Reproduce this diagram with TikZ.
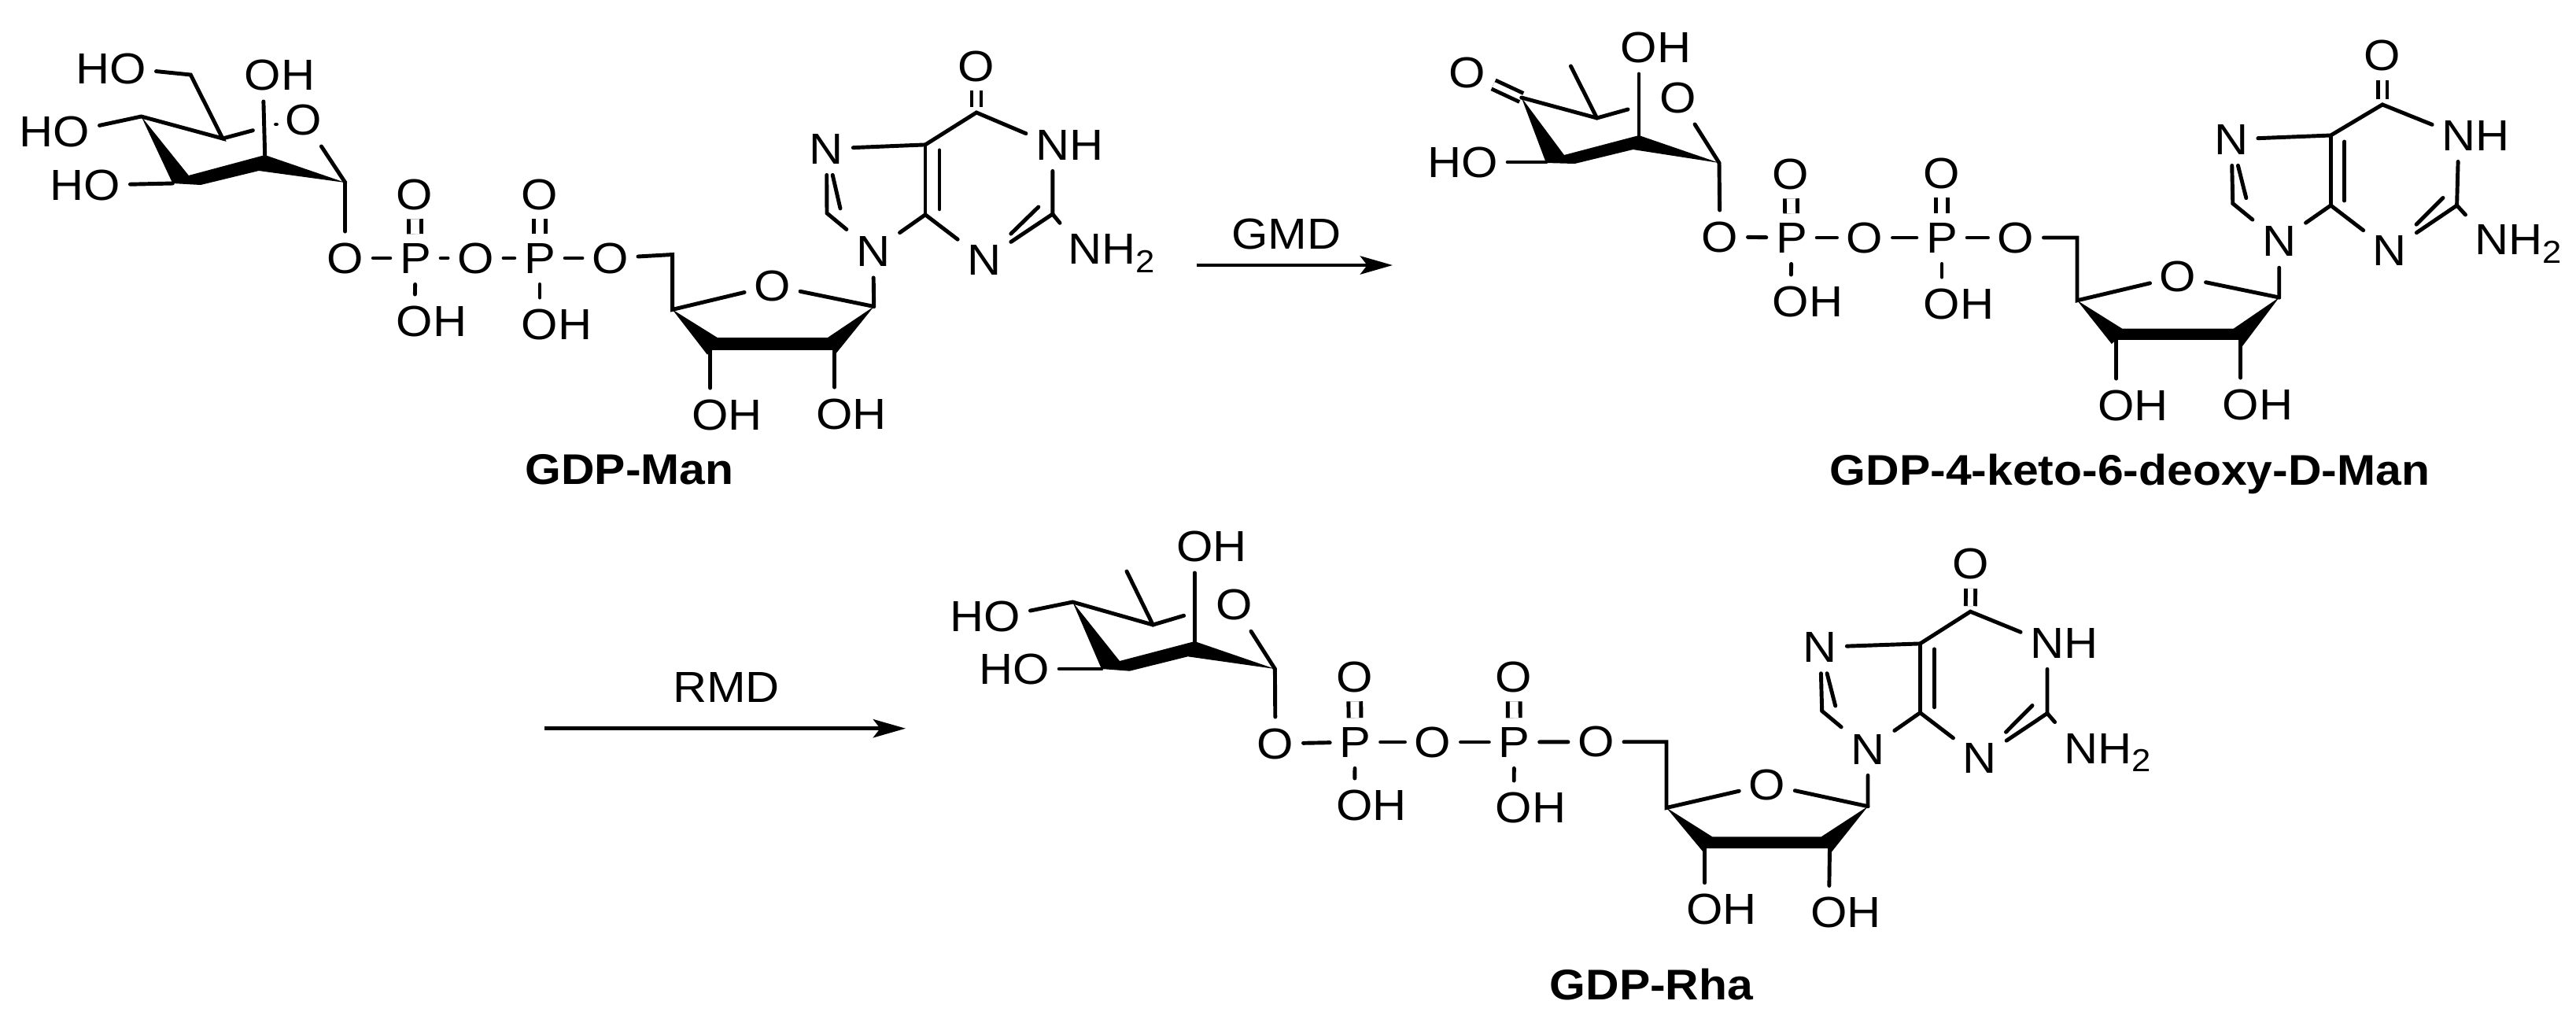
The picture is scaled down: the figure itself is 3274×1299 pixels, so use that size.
\documentclass[tikz,border=0pt]{standalone}
\usepackage{fontspec}
\setmainfont[FakeStretch=1.08]{Liberation Sans}
\usetikzlibrary{arrows.meta}
\newcommand{\hO}{\llap{H}O}
\newcommand{\Oh}{O\rlap{H}}
\newcommand{\Nh}{N\rlap{H}}
\newcommand{\Nhh}{N\rlap{H\raisebox{-3pt}{\fontsize{11.5}{13}\selectfont 2}}}
\tikzset{
	atom/.style={inner xsep=3.3pt, inner ysep=3.9pt, font=\fontsize{15.7}{18}\selectfont},
	molname/.style={anchor=base, inner sep=0pt, font=\fontsize{15.5}{20}\selectfont\bfseries},
	enzyme/.style={inner sep=0pt, font=\fontsize{15.7}{19}\selectfont},
	bond/.style={line width=1.4pt, line cap=round},
	pbond/.style={line width=1.4pt, double, double distance=3.1pt, shorten <=-0.75pt, shorten >=-0.75pt},
	cbond/.style={line width=1.4pt, double, double distance=2pt, shorten <=-0.75pt},
	rxn/.style={line width=1.35pt, -{Stealth[length=11.7pt, width=6.6pt, inset=2.5pt]}}
}
\begin{document}
\begin{tikzpicture}[x=0.01cm, y=-0.01cm]
	\useasboundingbox (0,0) rectangle (3274,1299);
	% GDP-Man, sugar
	\coordinate (manCH) at (242.3,95);
	\coordinate (manC5) at (283,176);
	\coordinate (manC5b) at (321.4,165.7);
	\coordinate (manC4) at (179.6,148);
	\coordinate (manC3) at (219.4,233);
	\coordinate (manC2) at (336.7,197);
	\coordinate (manC1) at (438.8,232);
	\node[atom] (manOHf) at (163,87) {\hO};
	\node[atom] (manOH4) at (91,167) {\hO};
	\node[atom] (manOH3) at (130,235) {\hO};
	\node[atom] (manOH2) at (334,95) {\Oh};
	\node[atom] (manO5) at (386,152) {O};
	\fill (manC4) -- (manC3) -- (255,235) -- (329,217) -- (manC1) -- (manC2) -- (239.8,223) -- cycle;
	\draw[bond] (manOHf) -- (manCH) -- (manC5) -- (manC4) -- (manOH4);
	\draw[bond] (manC5) -- (manC5b);
	\draw[bond] (350.5,158) -- (351.5,158);
	\draw[bond] (manOH2) -- (manC2);
	\draw[bond] (manOH3) -- (manC3);
	\draw[bond] (manO5) -- (manC1);
	% GDP-Man, diphosphate
	\node[atom] (manOa) at (438.8,328) {O};
	\node[atom] (manPa) at (528,328) {P};
	\node[atom] (manOb) at (604.6,328) {O};
	\node[atom] (manPb) at (686,328) {P};
	\node[atom] (manOc) at (775.5,328) {O};
	\node[atom] (manOxa) at (527,247) {O};
	\node[atom] (manOxb) at (686,247) {O};
	\node[atom] (manOHa) at (527,408) {\Oh};
	\node[atom] (manOHb) at (686,412) {\Oh};
	\draw[bond] (manC1) -- (manOa);
	\draw[bond] (manOa) -- (manPa);
	\draw[bond] (manPa) -- (manOb);
	\draw[bond] (manOb) -- (manPb);
	\draw[bond] (manPb) -- (manOc);
	\draw[pbond] (manPa) -- (manOxa);
	\draw[pbond] (manPb) -- (manOxb);
	\draw[bond] (manPa) -- (manOHa);
	\draw[bond] (manPb) -- (manOHb);
	% GDP-Man, ribose
	\coordinate (manR5) at (854.6,323.5);
	\coordinate (manR4) at (854.6,393.4);
	\coordinate (manR3) at (902.6,444.8);
	\coordinate (manR2) at (1060.7,444.8);
	\coordinate (manR1) at (1110.7,389.5);
	\node[atom] (manRO) at (981.6,363) {O};
	\node[atom] (manROHa) at (902.6,527) {\Oh};
	\node[atom] (manROHb) at (1060.7,526) {\Oh};
	\fill (manR4) -- (899,450.8) -- (manR3) -- (manR2) -- (1059.7,452.7) -- (manR1) -- (1052,429) -- (911.7,429) -- cycle;
	\draw[bond] (manOc) -- (manR5) -- (manR4) -- (manRO) -- (manR1);
	\draw[bond] (manR3) -- (manROHa);
	\draw[bond] (manR2) -- (manROHb);
	% GDP-Man, guanine
	\coordinate (manG8) at (1051,270.9);
	\coordinate (manG5) at (1176,183.9);
	\coordinate (manG4) at (1176,272.8);
	\coordinate (manG2) at (1337.8,272);
	\coordinate (manG6) at (1241,143);
	\node[atom] (manN9) at (1109.7,319.5) {N};
	\node[atom] (manN7) at (1050.5,189) {N};
	\node[atom] (manN3) at (1251,330) {N};
	\node[atom] (manN1) at (1337.8,184) {\Nh};
	\node[atom] (manN2) at (1378.6,322) {\Nhh};
	\node[atom] (manO6) at (1241,84) {O};
	\draw[cbond, shorten >=2pt] (manO6) -- (manG6);
	\draw[bond] (manR1) -- (manN9) -- (manG8) -- (manN7) -- (manG5) -- (manG6) -- (manN1) -- (manG2) -- (manN3) -- (manG4) -- (manN9);
	\draw[bond] (manG5) -- (manG4);
	\draw[bond] (manG2) -- (manN2);
	\draw[bond] ([shift={(18,7)}]manG5) -- ([shift={(18,-7)}]manG4);
	\draw[bond] ([shift={(17,-6)}]manG8) -- ([shift={(16,30)}]manN7);
	\draw[bond] ([shift={(-18,-9)}]manG2) -- ([shift={(19,-35)}]manN3);
	\node[molname] (manName) at (800,615) {GDP-Man};
	% GMD step
	\coordinate (gmdA) at (1521,337);
	\coordinate (gmdB) at (1770,337);
	\draw[rxn] (gmdA) -- (gmdB);
	\node[enzyme] (gmd) at (1635,297) {GMD};
	% GDP-4-keto, sugar
	\coordinate (ketoC5) at (2029.6,150);
	\coordinate (ketoC5b) at (2069,139);
	\coordinate (ketoMe) at (1996.4,84);
	\coordinate (ketoC4) at (1933.7,124);
	\coordinate (ketoC3) at (1965,206);
	\coordinate (ketoC2) at (2083,172);
	\coordinate (ketoC1) at (2185,207);
	\node[atom] (ketoO4) at (1865,92) {O};
	\node[atom] (ketoOH3) at (1880.6,206) {\hO};
	\node[atom] (ketoOH2) at (2083,60) {\Oh};
	\node[atom] (ketoO5) at (2132.6,124) {O};
	\draw[cbond] (ketoO4) -- (ketoC4);
	\fill (ketoC4) -- (1965,207) -- (2001.5,208) -- (2075.5,190) -- (ketoC1) -- (ketoC2) -- (1988,197) -- cycle;
	\draw[bond] (ketoC4) -- (ketoC5) -- (ketoC5b);
	\draw[bond] (ketoMe) -- (ketoC5);
	\draw[bond] (ketoOH2) -- (ketoC2);
	\draw[bond] (ketoOH3) -- (ketoC3);
	\draw[bond] (ketoO5) -- (ketoC1);
	% GDP-4-keto, diphosphate
	\node[atom] (ketoOa) at (2186,301) {O};
	\node[atom] (ketoPa) at (2277,302) {P};
	\node[atom] (ketoOb) at (2370,302) {O};
	\node[atom] (ketoPb) at (2468,302) {P};
	\node[atom] (ketoOc) at (2562,302) {O};
	\node[atom] (ketoOxa) at (2276,221) {O};
	\node[atom] (ketoOxb) at (2468,220) {O};
	\node[atom] (ketoOHa) at (2276,383) {\Oh};
	\node[atom] (ketoOHb) at (2468,386) {\Oh};
	\draw[bond] (ketoC1) -- (ketoOa);
	\draw[bond] (ketoOa) -- (ketoPa);
	\draw[bond] (ketoPa) -- (ketoOb);
	\draw[bond] (ketoOb) -- (ketoPb);
	\draw[bond] (ketoPb) -- (ketoOc);
	\draw[pbond] (ketoPa) -- (ketoOxa);
	\draw[pbond] (ketoPb) -- (ketoOxb);
	\draw[bond] (ketoPa) -- (ketoOHa);
	\draw[bond] (ketoPb) -- (ketoOHb);
	% GDP-4-keto, ribose
	\coordinate (ketoR5) at (2640,302);
	\coordinate (ketoR4) at (2640,381.8);
	\coordinate (ketoR3) at (2689.6,431.8);
	\coordinate (ketoR2) at (2847.8,431.8);
	\coordinate (ketoR1) at (2896.7,378);
	\node[atom] (ketoRO) at (2768,351.4) {O};
	\node[atom] (ketoROHa) at (2689.6,515) {\Oh};
	\node[atom] (ketoROHb) at (2847.8,514) {\Oh};
	\fill (ketoR4) -- (2683.8,437) -- (ketoR3) -- (ketoR2) -- (2849.4,440.7) -- (ketoR1) -- (2838.9,417.5) -- (2697,417.5) -- cycle;
	\draw[bond] (ketoOc) -- (ketoR5) -- (ketoR4) -- (ketoRO) -- (ketoR1);
	\draw[bond] (ketoR3) -- (ketoROHa);
	\draw[bond] (ketoR2) -- (ketoROHb);
	% GDP-4-keto, guanine
	\coordinate (ketoG8) at (2837.8,258.6);
	\coordinate (ketoG5) at (2962.3,172);
	\coordinate (ketoG4) at (2962.3,261);
	\coordinate (ketoG2) at (3122.6,261);
	\coordinate (ketoG6) at (3028,132.9);
	\node[atom] (ketoN9) at (2896.7,306.8) {N};
	\node[atom] (ketoN7) at (2836,177) {N};
	\node[atom] (ketoN3) at (3037.5,318.6) {N};
	\node[atom] (ketoN1) at (3125,172) {\Nh};
	\node[atom] (ketoN2) at (3167.3,310) {\Nhh};
	\node[atom] (ketoO6) at (3028,70.7) {O};
	\draw[cbond, shorten >=2pt] (ketoO6) -- (ketoG6);
	\draw[bond] (ketoR1) -- (ketoN9) -- (ketoG8) -- (ketoN7) -- (ketoG5) -- (ketoG6) -- (ketoN1) -- (ketoG2) -- (ketoN3) -- (ketoG4) -- (ketoN9);
	\draw[bond] (ketoG5) -- (ketoG4);
	\draw[bond] (ketoG2) -- (ketoN2);
	\draw[bond] ([shift={(17.5,8)}]ketoG5) -- ([shift={(17.5,-6)}]ketoG4);
	\draw[bond] ([shift={(17,-7)}]ketoG8) -- ([shift={(17.6,30.5)}]ketoN7);
	\draw[bond] ([shift={(-17.6,-9.6)}]ketoG2) -- ([shift={(19.5,-35)}]ketoN3);
	\node[molname] (ketoName) at (2707,616) {GDP-4-keto-6-deoxy-D-Man};
	% RMD step
	\coordinate (rmdA) at (692,925.7);
	\coordinate (rmdB) at (1151,925.7);
	\draw[rxn] (rmdA) -- (rmdB);
	\node[enzyme] (rmd) at (923,873.5) {RMD};
	% GDP-Rha, sugar
	\coordinate (rhaC5) at (1465.3,794);
	\coordinate (rhaC5b) at (1504.6,782.3);
	\coordinate (rhaMe) at (1432,726);
	\coordinate (rhaC4) at (1363.3,765);
	\coordinate (rhaC3) at (1400,850);
	\coordinate (rhaC2) at (1518.4,815);
	\coordinate (rhaC1) at (1620.4,850);
	\node[atom] (rhaOH4) at (1274,783.3) {\hO};
	\node[atom] (rhaOH3) at (1310.7,850) {\hO};
	\node[atom] (rhaOH2) at (1518.4,694) {\Oh};
	\node[atom] (rhaO5) at (1568.4,768.3) {O};
	\fill (rhaC4) -- (rhaC3) -- (1435.7,852.7) -- (1509.7,834.3) -- (rhaC1) -- (rhaC2) -- (1423,840) -- cycle;
	\draw[bond] (rhaOH4) -- (rhaC4) -- (rhaC5) -- (rhaC5b);
	\draw[bond] (rhaMe) -- (rhaC5);
	\draw[bond] (rhaOH2) -- (rhaC2);
	\draw[bond] (rhaOH3) -- (rhaC3);
	\draw[bond] (rhaO5) -- (rhaC1);
	% GDP-Rha, diphosphate
	\node[atom] (rhaOa) at (1621,945) {O};
	\node[atom] (rhaPa) at (1722.4,943) {P};
	\node[atom] (rhaOb) at (1821,943) {O};
	\node[atom] (rhaPb) at (1924.5,943) {P};
	\node[atom] (rhaOc) at (2028.5,942.7) {O};
	\node[atom] (rhaOxa) at (1721.4,860) {O};
	\node[atom] (rhaOxb) at (1924,860) {O};
	\node[atom] (rhaOHa) at (1721.4,1023) {\Oh};
	\node[atom] (rhaOHb) at (1924,1026) {\Oh};
	\draw[bond] (rhaC1) -- (rhaOa);
	\draw[bond] (rhaOa) -- (rhaPa);
	\draw[bond] (rhaPa) -- (rhaOb);
	\draw[bond] (rhaOb) -- (rhaPb);
	\draw[bond] (rhaPb) -- (rhaOc);
	\draw[pbond] (rhaPa) -- (rhaOxa);
	\draw[pbond] (rhaPb) -- (rhaOxb);
	\draw[bond] (rhaPa) -- (rhaOHa);
	\draw[bond] (rhaPb) -- (rhaOHb);
	% GDP-Rha, ribose
	\coordinate (rhaR5) at (2118,942.7);
	\coordinate (rhaR4) at (2118,1026.5);
	\coordinate (rhaR3) at (2166.7,1078);
	\coordinate (rhaR2) at (2325.5,1078);
	\coordinate (rhaR1) at (2374,1024.7);
	\node[atom] (rhaRO) at (2245.8,997) {O};
	\node[atom] (rhaROHa) at (2166.7,1155.7) {\Oh};
	\node[atom] (rhaROHb) at (2324.4,1159.4) {\Oh};
	\fill (rhaR4) -- (2165.6,1083.7) -- (rhaR3) -- (rhaR2) -- (2325.5,1085.6) -- (rhaR1) -- (2314.6,1063.4) -- (2176.4,1063.4) -- cycle;
	\draw[bond] (rhaOc) -- (rhaR5) -- (rhaR4) -- (rhaRO) -- (rhaR1);
	\draw[bond] (rhaR3) -- (rhaROHa);
	\draw[bond] (rhaR2) -- (rhaROHb);
	% GDP-Rha, guanine
	\coordinate (rhaG8) at (2315.7,903.5);
	\coordinate (rhaG5) at (2440.4,817.9);
	\coordinate (rhaG4) at (2440.4,905.7);
	\coordinate (rhaG2) at (2602,906.5);
	\coordinate (rhaG6) at (2504.3,777.2);
	\node[atom] (rhaN9) at (2374,952) {N};
	\node[atom] (rhaN7) at (2313.5,822.3) {N};
	\node[atom] (rhaN3) at (2516.3,963.7) {N};
	\node[atom] (rhaN1) at (2602,817) {\Nh};
	\node[atom] (rhaN2) at (2645,956.3) {\Nhh};
	\node[atom] (rhaO6) at (2505,716.6) {O};
	\draw[cbond, shorten >=2pt] (rhaO6) -- (rhaG6);
	\draw[bond] (rhaR1) -- (rhaN9) -- (rhaG8) -- (rhaN7) -- (rhaG5) -- (rhaG6) -- (rhaN1) -- (rhaG2) -- (rhaN3) -- (rhaG4) -- (rhaN9);
	\draw[bond] (rhaG5) -- (rhaG4);
	\draw[bond] (rhaG2) -- (rhaN2);
	\draw[bond] ([shift={(18,7)}]rhaG5) -- ([shift={(18,-7)}]rhaG4);
	\draw[bond] ([shift={(17,-6.5)}]rhaG8) -- ([shift={(18,29.5)}]rhaN7);
	\draw[bond] ([shift={(-19,-10)}]rhaG2) -- ([shift={(18.7,-35)}]rhaN3);
	\node[molname] (rhaName) at (2099,1270) {GDP-Rha};
\end{tikzpicture}
\end{document}
